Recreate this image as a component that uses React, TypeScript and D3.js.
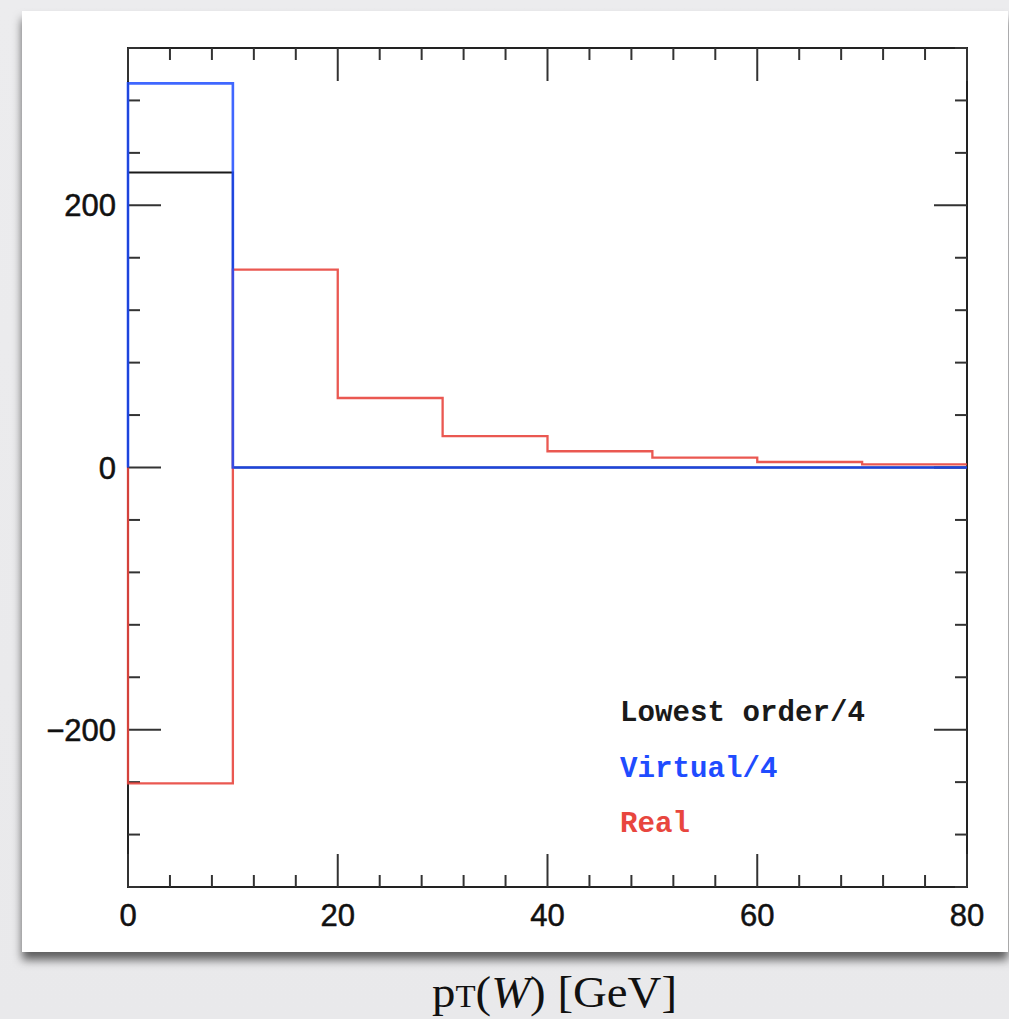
import React from "react";
import * as d3 from "d3";

const binEdges = [0, 10, 20, 30, 40, 50, 60, 70, 80];
const lowestOrder = [225, 0, 0, 0, 0, 0, 0, 0];
const virtualVals = [293, 0, 0, 0, 0, 0, 0, 0];
const realVals = [-241, 151, 53, 24, 12.4, 7.5, 4.2, 2.4];

const xMajorTicks = [0, 20, 40, 60, 80];
const yMajorTicks = [-200, 0, 200];
const legendItems = [
  { label: "Lowest order/4", color: "#1a1a1a" },
  { label: "Virtual/4", color: "#1f4cff" },
  { label: "Real", color: "#e8463e" },
];

const W = 1009;
const H = 1019;
const plot = { left: 128, right: 967, top: 48, bottom: 887 };

export default function App() {
  const x = d3.scaleLinear().domain([0, 80]).range([plot.left, plot.right]);
  const y = d3.scaleLinear().domain([-320, 320]).range([plot.bottom, plot.top]);

  const stepPts = (vals: number[]) => {
    const pts: [number, number][] = [[binEdges[0], 0]];
    vals.forEach((v, i) => {
      pts.push([binEdges[i], v]);
      pts.push([binEdges[i + 1], v]);
    });
    return pts;
  };
  const line = d3
    .line<[number, number]>()
    .x((d) => x(d[0]))
    .y((d) => y(d[1]));

  const xMinor = d3.range(0, 80.001, 4);
  const yMinor = d3.range(-320, 320.001, 40);
  const majLen = 33;
  const minLen = 12;
  const tickColor = "#333";

  return (
    <svg
      width={W}
      height={H}
      style={{ position: "absolute", left: 0, top: 0 }}
      xmlns="http://www.w3.org/2000/svg"
    >
      <defs>
        <linearGradient id="bg" x1="0" y1="0" x2="0" y2="1">
          <stop offset="0" stopColor="#ececee" />
          <stop offset="1" stopColor="#e9e9eb" />
        </linearGradient>
        <filter id="shadow" x="-5%" y="-5%" width="110%" height="115%">
          <feDropShadow dx="0" dy="8" stdDeviation="5" floodColor="#000" floodOpacity="0.6" />
        </filter>
      </defs>
      <rect x={0} y={0} width={W} height={H} fill="url(#bg)" />
      <rect x={22} y={11} width={986} height={941} fill="#fff" filter="url(#shadow)" />

      {/* frame */}
      <rect
        x={plot.left}
        y={plot.top}
        width={plot.right - plot.left}
        height={plot.bottom - plot.top}
        fill="none"
        stroke="#222"
        strokeWidth={2}
      />

      {/* x ticks */}
      {xMinor.map((t) => {
        const major = xMajorTicks.includes(t);
        const len = major ? majLen : minLen;
        return (
          <g key={"xt" + t} stroke={tickColor} strokeWidth={2}>
            <line x1={x(t)} x2={x(t)} y1={plot.bottom} y2={plot.bottom - len} />
            <line x1={x(t)} x2={x(t)} y1={plot.top} y2={plot.top + len} />
          </g>
        );
      })}
      {/* y ticks */}
      {yMinor.map((t) => {
        const major = yMajorTicks.includes(t);
        const len = major ? majLen : minLen;
        return (
          <g key={"yt" + t} stroke={tickColor} strokeWidth={2}>
            <line x1={plot.left} x2={plot.left + len} y1={y(t)} y2={y(t)} />
            <line x1={plot.right} x2={plot.right - len} y1={y(t)} y2={y(t)} />
          </g>
        );
      })}

      {/* tick labels */}
      {xMajorTicks.map((t) => (
        <text
          key={"xl" + t}
          x={x(t)}
          y={926}
          textAnchor="middle"
          fontFamily="Liberation Sans, Arial, sans-serif"
          fontSize={31}
          fill="#111"
          stroke="#111"
          strokeWidth={0.5}
        >
          {t}
        </text>
      ))}
      {yMajorTicks.map((t) => (
        <text
          key={"yl" + t}
          x={116}
          y={y(t) + 11}
          textAnchor="end"
          fontFamily="Liberation Sans, Arial, sans-serif"
          fontSize={31}
          fill="#111"
          stroke="#111"
          strokeWidth={0.5}
        >
          {t < 0 ? "\u2212" + Math.abs(t) : t}
        </text>
      ))}

      {/* data */}
      <path d={line(stepPts(lowestOrder)) || ""} fill="none" stroke="#1a1a1a" strokeWidth={2} />
      <path d={line(stepPts(realVals)) || ""} fill="none" stroke="#e8463e" strokeWidth={2.3} opacity={0.9} />
      <path d={line(stepPts(virtualVals)) || ""} fill="none" stroke="#1f4cff" strokeWidth={2.6} opacity={0.85} />

      {/* legend */}
      {legendItems.map((d, i) => (
        <text
          key={d.label}
          x={620}
          y={721 + i * 55.5}
          fontFamily="Liberation Mono, Courier New, monospace"
          fontWeight="bold"
          fontSize={29}
          fill={d.color}
          textLength={d.label.length * 17.5}
          lengthAdjust="spacingAndGlyphs"
        >
          {d.label}
        </text>
      ))}

      {/* x axis title */}
      <text
        x={432}
        y={1007}
        fontFamily="Liberation Serif, Times New Roman, serif"
        fontSize={44}
        fill="#111"
        textLength={245}
        lengthAdjust="spacingAndGlyphs"
      >
        p
        <tspan fontSize={31}>T</tspan>
        (<tspan fontStyle="italic">W</tspan>) [GeV]
      </text>
    </svg>
  );
}
